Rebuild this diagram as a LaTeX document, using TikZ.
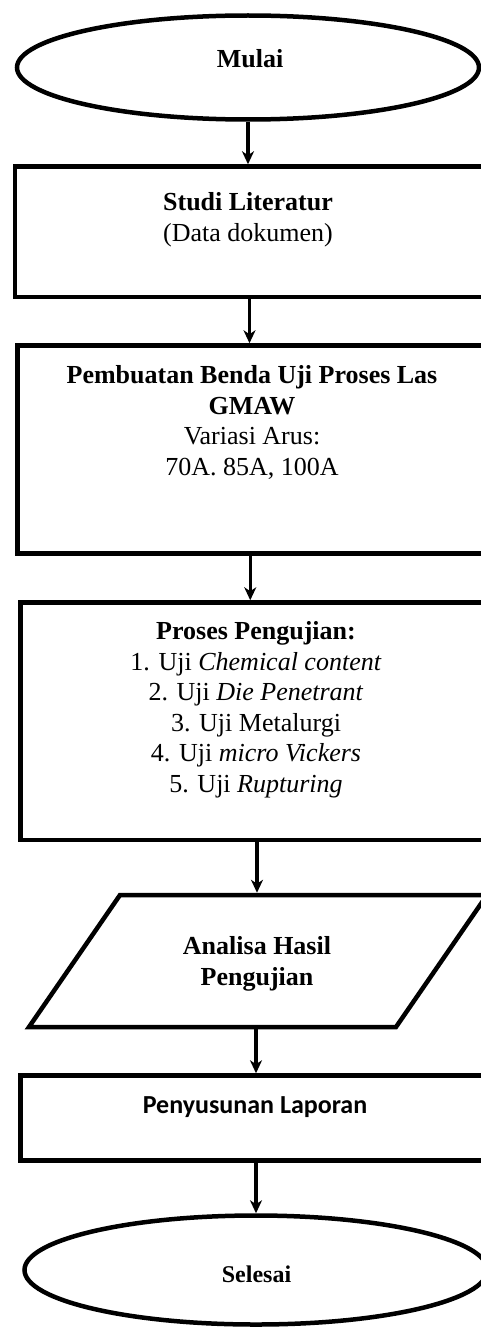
\documentclass[tikz,border=0pt]{standalone}
\usepackage{fontspec}
\setmainfont{Liberation Serif}
\newfontfamily\calibrifont{Carlito}
\usetikzlibrary{shapes.geometric,arrows.meta,calc}
\begin{document}
\begin{tikzpicture}[x=1pt,y=-1pt,
  shapeline/.style={draw=black,line width=4.5pt,inner sep=0pt},
  boxshape/.style={shapeline,rectangle},
  ovalshape/.style={shapeline,ellipse},
  arr/.style={line width=3.5pt,-{Stealth[length=13pt,width=12pt,inset=4pt]}},
  txt/.style={align=center,inner sep=0pt,anchor=base,font=\fontsize{26}{30.5}\selectfont}]
\useasboundingbox (0,0) rectangle (481,1327);
\clip (0,0) rectangle (481,1327);

% shapes
\node[ovalshape,minimum width=462pt,minimum height=104pt] (mulai) at (248,67.5) {};
\node[boxshape,minimum width=469pt,minimum height=130.5pt] (studi) at (249.5,231.75) {};
\node[boxshape,minimum width=465.5pt,minimum height=208pt] (benda) at (250.25,449.5) {};
\node[boxshape,minimum width=462.5pt,minimum height=237.5pt] (uji) at (251.75,721.25) {};
\draw[line width=4.5pt,line join=miter] (29,1027) -- (396,1027) -- (487,895) -- (120,895) -- cycle;
\coordinate (anaT) at (257,892.75);
\coordinate (anaB) at (256,1029.25);
\node[boxshape,minimum width=462.5pt,minimum height=85pt] (lapor) at (251.75,1118) {};
\node[ovalshape,minimum width=463pt,minimum height=109pt] (selesai) at (256,1270) {};

% connectors
\draw[arr] (mulai.south) -- (mulai.south |- studi.north);
\draw[arr] (studi.south) -- (studi.south |- benda.north);
\draw[arr] (benda.south) -- (benda.south |- uji.north);
\draw[arr] (uji.south -| anaT) -- (anaT);
\draw[arr] (anaB) -- (anaB |- lapor.north);
\draw[arr] (lapor.south -| selesai.north) -- (selesai.north);

% texts (anchor=base sits on the last line)
\node[txt] (tmulai) at (250,68) {\textbf{Mulai}};
\node[txt] (tstudi) at (248,241) {\textbf{Studi Literatur}\\(Data dokumen)};
\node[txt] (tbenda) at (252,475) {\textbf{Pembuatan Benda Uji Proses Las}\\\textbf{GMAW}\\Variasi Arus:\\70A. 85A, 100A};
\node[txt] (tuji) at (256,792) {\textbf{Proses Pengujian:}\\1. Uji \textit{Chemical content}\\2. Uji \textit{Die Penetrant}\\3. Uji Metalurgi\\4. Uji \textit{micro Vickers}\\5. Uji \textit{Rupturing}};
\node[txt] (tana) at (257,985) {\textbf{Analisa Hasil}\\\textbf{Pengujian}};
\node[txt,font=\calibrifont\fontsize{26}{30.5}\selectfont] (tlapor) at (255,1113) {\textbf{Penyusunan Laporan}};
\node[txt,font=\fontsize{24}{28}\selectfont] (tsel) at (256.5,1282) {\textbf{Selesai}};
\end{tikzpicture}
\end{document}
